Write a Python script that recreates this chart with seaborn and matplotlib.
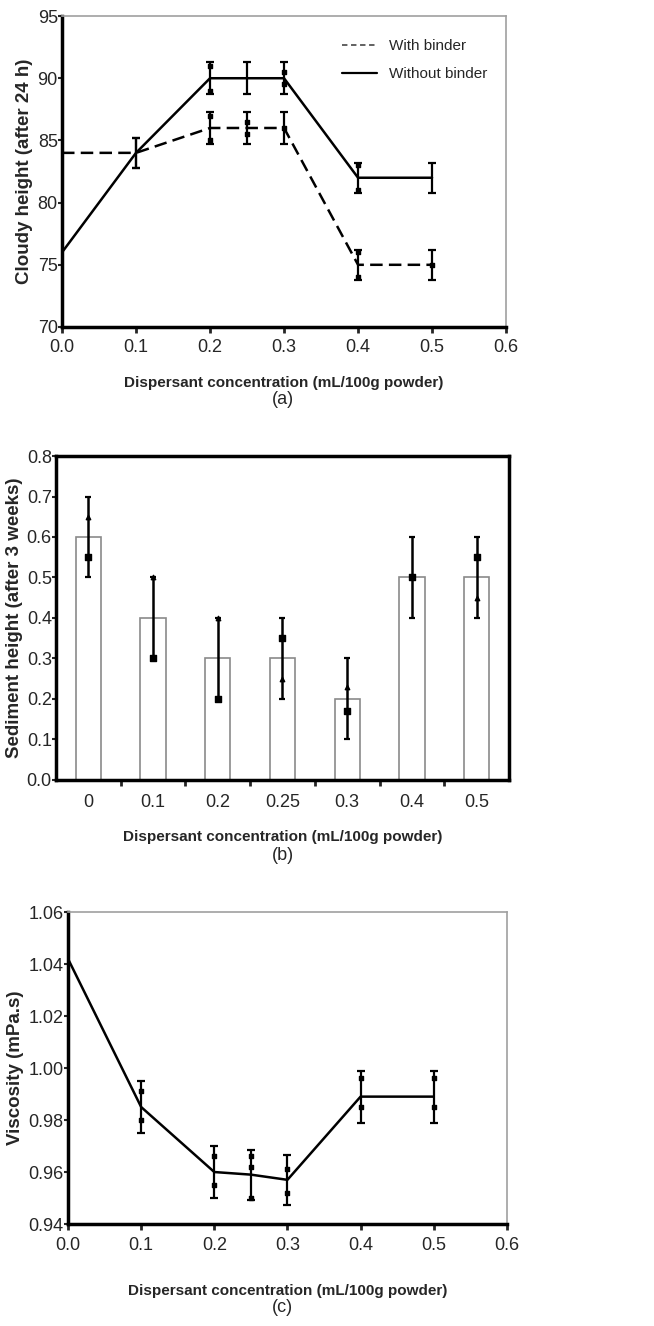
import numpy as np
import pandas as pd
import matplotlib
matplotlib.use("Agg")
import matplotlib.pyplot as plt
import seaborn as sns

# ---- data ----
conc = [0.0, 0.1, 0.2, 0.25, 0.3, 0.4, 0.5]

# (a) cloudy height after 24 h
cloud_without = [76.0, 84.0, 90.0, 90.0, 90.0, 82.0, 82.0]
cloud_without_err = [0.0, 1.2, 1.3, 1.3, 1.3, 1.2, 1.2]
cloud_with = [84.0, 84.0, 86.0, 86.0, 86.0, 75.0, 75.0]
cloud_with_err = [0.0, 1.2, 1.3, 1.3, 1.3, 1.2, 1.2]
cloud_pts_x = [0.2, 0.2, 0.25, 0.25, 0.3, 0.4, 0.4, 0.5, 0.2, 0.2, 0.3, 0.3, 0.4, 0.4]
cloud_pts_y = [85.0, 87.0, 86.5, 85.5, 86.0, 74.0, 76.0, 75.0, 91.0, 89.0, 90.5, 89.5, 83.0, 81.0]

# (b) sediment height after 3 weeks
sed_labels = ["0", "0.1", "0.2", "0.25", "0.3", "0.4", "0.5"]
sed_height = [0.6, 0.4, 0.3, 0.3, 0.2, 0.5, 0.5]
sed_err = [0.1, 0.1, 0.1, 0.1, 0.1, 0.1, 0.1]
sed_sq_idx = [0, 1, 2, 3, 4, 5, 6]
sed_sq_y = [0.55, 0.30, 0.20, 0.35, 0.17, 0.50, 0.55]
sed_tri_idx = [0, 1, 2, 3, 4, 6]
sed_tri_y = [0.65, 0.50, 0.40, 0.25, 0.23, 0.45]

# (c) viscosity
visc = [1.042, 0.985, 0.960, 0.959, 0.957, 0.989, 0.989]
visc_err = [0.0, 0.010, 0.010, 0.0096, 0.0097, 0.010, 0.010]
visc_pts_x = [0.1, 0.1, 0.2, 0.2, 0.25, 0.25, 0.25, 0.3, 0.3, 0.4, 0.4, 0.5, 0.5]
visc_pts_y = [0.991, 0.980, 0.966, 0.955, 0.966, 0.962, 0.950, 0.961, 0.952, 0.996, 0.985, 0.996, 0.985]

sns.set_style("ticks")
plt.rcParams['font.family'] = ['Liberation Sans', 'DejaVu Sans']
plt.rcParams['xtick.labelsize'] = 13
plt.rcParams['ytick.labelsize'] = 13

fig = plt.figure(figsize=(6.54, 13.26), dpi=100)
ax_a = fig.add_axes([0.0948, 0.7534, 0.679, 0.2345])
ax_b = fig.add_axes([0.0856, 0.4118, 0.6927, 0.2443])
ax_c = fig.add_axes([0.1040, 0.0769, 0.6710, 0.2353])

xlab = "Dispersant concentration (mL/100g powder)"


def style_line_axes(ax):
    for side in ["left", "bottom"]:
        ax.spines[side].set_color("black")
        ax.spines[side].set_linewidth(2.5)
    for side in ["top", "right"]:
        ax.spines[side].set_visible(True)
        ax.spines[side].set_color("#a0a0a0")
        ax.spines[side].set_linewidth(1.2)
    ax.tick_params(axis="x", direction="out", length=4, width=2, pad=5)
    ax.tick_params(axis="y", direction="out", length=3, width=1.5, pad=0)
    ax.set_xlim(0, 0.6)
    ax.set_xticks(np.arange(0, 0.61, 0.1))
    ax.set_xticklabels([f"{v:.1f}" for v in np.arange(0, 0.61, 0.1)])


# ---- (a) ----
df_a = pd.DataFrame({
    "conc": conc * 2,
    "height": cloud_with + cloud_without,
    "series": ["With binder"] * 7 + ["Without binder"] * 7,
})
sns.lineplot(data=df_a, x="conc", y="height", style="series",
             dashes={"With binder": (5, 2.5), "Without binder": ""},
             color="black", linewidth=1.8, ax=ax_a, legend=False)
ax_a.errorbar(conc[1:], cloud_with[1:], yerr=cloud_with_err[1:], fmt="none",
              ecolor="black", elinewidth=1.6, capsize=3, capthick=1.6)
ax_a.errorbar(conc[1:], cloud_without[1:], yerr=cloud_without_err[1:], fmt="none",
              ecolor="black", elinewidth=1.6, capsize=3, capthick=1.6)
ax_a.scatter(cloud_pts_x, cloud_pts_y, marker="s", s=8, color="black", zorder=4)
style_line_axes(ax_a)
ax_a.set_ylim(70, 95)
ax_a.set_yticks([70, 75, 80, 85, 90, 95])
ax_a.set_ylabel("Cloudy height (after 24 h)", fontsize=13.5, fontweight="bold", labelpad=3)
ax_a.set_xlabel(xlab, fontsize=11, fontweight="bold", labelpad=14)
h1, = ax_a.plot([], [], color="#555555", linestyle=(0, (3, 2)), linewidth=1.3)
h2, = ax_a.plot([], [], color="black", linewidth=1.6)
ax_a.legend([h1, h2], ["With binder", "Without binder"], loc="upper right",
            frameon=False, fontsize=11, handlelength=2.3, labelspacing=0.9,
            bbox_to_anchor=(0.99, 0.97))
fig.text(0.432, 1 - 400 / 1326, "(a)", ha="center", va="center", fontsize=13)

# ---- (b) ----
df_b = pd.DataFrame({"conc": sed_labels, "height": sed_height})
sns.barplot(data=df_b, x="conc", y="height", order=sed_labels, color="white",
            edgecolor="#8a8a8a", linewidth=1.2, width=0.39, ax=ax_b)
ax_b.errorbar(np.arange(len(sed_labels)), sed_height, yerr=sed_err, fmt="none",
              ecolor="black", elinewidth=1.8, capsize=2.5, capthick=1.6)
ax_b.scatter(sed_sq_idx, sed_sq_y, marker="s", s=14, color="black", zorder=4)
ax_b.scatter(sed_tri_idx, sed_tri_y, marker="^", s=10, color="black", zorder=4)
for side in ["left", "bottom", "top", "right"]:
    ax_b.spines[side].set_visible(True)
    ax_b.spines[side].set_color("black")
    ax_b.spines[side].set_linewidth(2.5)
ax_b.set_xlim(-0.5, len(sed_labels) - 0.5)
ax_b.set_ylim(0, 0.8)
ax_b.set_yticks(np.arange(0, 0.81, 0.1))
ax_b.set_yticklabels([f"{v:.1f}" for v in np.arange(0, 0.81, 0.1)])
ax_b.set_xticks(np.arange(0.5, len(sed_labels) - 0.5, 1.0), minor=True)
ax_b.tick_params(axis="x", which="major", length=0, pad=10)
ax_b.tick_params(axis="x", which="minor", direction="out", length=4, width=2)
ax_b.tick_params(axis="y", direction="out", length=3, width=1.5, pad=0)
ax_b.set_ylabel("Sediment height (after 3 weeks)", fontsize=13.5, fontweight="bold", labelpad=3)
ax_b.set_xlabel(xlab, fontsize=11, fontweight="bold", labelpad=14)
fig.text(0.432, 1 - 856 / 1326, "(b)", ha="center", va="center", fontsize=13)

# ---- (c) ----
df_c = pd.DataFrame({"conc": conc, "visc": visc})
sns.lineplot(data=df_c, x="conc", y="visc", color="black", linewidth=1.8, ax=ax_c)
ax_c.errorbar(conc[1:], visc[1:], yerr=visc_err[1:], fmt="none",
              ecolor="black", elinewidth=1.6, capsize=3, capthick=1.6)
ax_c.scatter(visc_pts_x, visc_pts_y, marker="s", s=8, color="black", zorder=4)
style_line_axes(ax_c)
ax_c.set_ylim(0.94, 1.06)
ax_c.set_yticks(np.arange(0.94, 1.061, 0.02))
ax_c.set_yticklabels([f"{v:.2f}" for v in np.arange(0.94, 1.061, 0.02)])
ax_c.set_ylabel("Viscosity (mPa.s)", fontsize=13.5, fontweight="bold", labelpad=3)
ax_c.set_xlabel(xlab, fontsize=11, fontweight="bold", labelpad=22)
fig.text(0.432, 1 - 1307 / 1326, "(c)", ha="center", va="center", fontsize=13)

fig.savefig("out.png", dpi=100, facecolor="white")
